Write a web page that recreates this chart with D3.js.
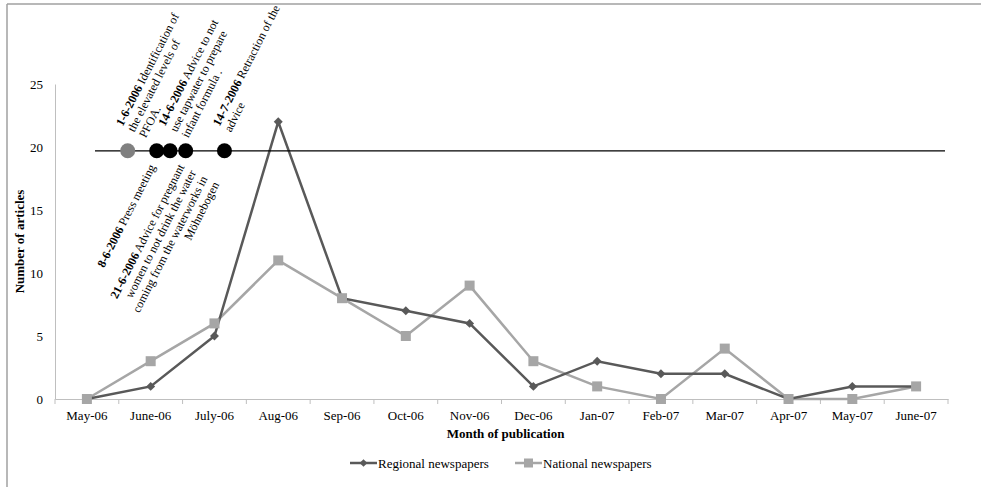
<!DOCTYPE html>
<html>
<head>
<meta charset="utf-8">
<script src="https://cdn.jsdelivr.net/npm/d3@7"></script>
<style>
  html, body { margin: 0; padding: 0; background: #fff; }
  svg { display: block; }
  text { font-family: "Liberation Serif", "Times New Roman", serif; fill: #000; }
</style>
</head>
<body>
<svg id="chart" width="981" height="487"></svg>
<script>
// ---------- data ----------
const months = ["May-06","June-06","July-06","Aug-06","Sep-06","Oct-06","Nov-06","Dec-06","Jan-07","Feb-07","Mar-07","Apr-07","May-07","June-07"];
const regional = [0, 1, 5, 22, 8, 7, 6, 1, 3, 2, 2, 0, 1, 1];
const national = [0, 3, 6, 11, 8, 5, 9, 3, 1, 0, 4, 0, 0, 1];
const yTicks = [0, 5, 10, 15, 20, 25];
const seriesNames = ["Regional newspapers", "National newspapers"];

const eventDates = ["2006-06-01", "2006-06-08", "2006-06-14", "2006-06-21", "2006-07-14"];
const eventTitles = ["1-6-2006", "8-6-2006", "14-6-2006", "21-6-2006", "14-7-2006"];
const eventLines = [
  ["Identification of", "the elevated  levels  of", "PFOA."],
  ["Press meeting"],
  ["Advice to not", "use tapwater to prepare", "infant formula ."],
  ["Advice for pregnant", "women to not drink the water", "coming from the waterworks  in", "Möhnebogen"],
  ["Retraction of the", "advice"]
];
const eventSide = ["above", "below", "above", "below", "above"];
const eventKind = ["info", "action", "action", "action", "action"];
const timelineLevel = 19.7;

// ---------- layout ----------
const svg = d3.select("#chart");
const W = 981, H = 487;
const plot = { left: 55, right: 948, top: 84, bottom: 399 };
const darkColor = "#595959", lightColor = "#a6a6a6", axisColor = "#bfbfbf";

// frame
svg.append("line").attr("x1", 7).attr("x2", W).attr("y1", 4).attr("y2", 4)
  .attr("stroke", "#a0a0a0").attr("stroke-width", 1.5);
svg.append("line").attr("x1", 7).attr("x2", 7).attr("y1", 4).attr("y2", H)
  .attr("stroke", "#a0a0a0").attr("stroke-width", 1.5);

const x = d3.scaleBand().domain(months).range([plot.left, plot.right]);
const cx = m => x(m) + x.bandwidth() / 2;
const y = d3.scaleLinear().domain([0, 25]).range([plot.bottom, plot.top]);

// y axis
const yAxis = d3.axisLeft(y).tickValues(yTicks).tickSize(0).tickPadding(12);
const gy = svg.append("g").attr("transform", `translate(${plot.left},0)`).call(yAxis);
gy.select(".domain").attr("stroke", axisColor).attr("stroke-width", 1);
gy.selectAll("text").attr("font-size", 13).attr("font-family", "Liberation Serif, serif").attr("fill", "#000");

// x axis
const xAxis = d3.axisBottom(x).tickSize(0).tickPadding(12);
const gx = svg.append("g").attr("transform", `translate(0,${plot.bottom})`).call(xAxis);
gx.select(".domain").attr("stroke", axisColor).attr("stroke-width", 1);
gx.selectAll("text").attr("font-size", 13).attr("font-family", "Liberation Serif, serif").attr("fill", "#000");
// boundary ticks
const bounds = months.map(m => x(m)).concat([x(months[months.length - 1]) + x.bandwidth()]);
gx.selectAll(".btick").data(bounds).enter().append("line")
  .attr("x1", d => d).attr("x2", d => d).attr("y1", 0).attr("y2", 5)
  .attr("stroke", axisColor).attr("stroke-width", 1);

// axis titles
svg.append("text").attr("x", (plot.left + plot.right) / 2 + 4).attr("y", 438)
  .attr("text-anchor", "middle").attr("font-size", 13).attr("font-weight", "bold")
  .text("Month of publication");
svg.append("text").attr("transform", `translate(24,${(plot.top + plot.bottom) / 2 + 0}) rotate(-90)`)
  .attr("text-anchor", "middle").attr("font-size", 13).attr("font-weight", "bold")
  .text("Number of articles");

// ---------- series ----------
const line = d3.line().x((d, i) => cx(months[i])).y(d => y(d));
svg.append("path").datum(national).attr("d", line).attr("fill", "none")
  .attr("stroke", lightColor).attr("stroke-width", 2.5);
svg.append("path").datum(regional).attr("d", line).attr("fill", "none")
  .attr("stroke", darkColor).attr("stroke-width", 2.5);

const diamond = d3.symbol().type(d3.symbolSquare).size(40);
svg.selectAll(".reg").data(regional).enter().append("path")
  .attr("d", diamond())
  .attr("transform", (d, i) => `translate(${cx(months[i])},${y(d)}) rotate(45)`)
  .attr("fill", darkColor);
svg.selectAll(".nat").data(national).enter().append("rect")
  .attr("x", (d, i) => cx(months[i]) - 5).attr("y", d => y(d) - 5)
  .attr("width", 10).attr("height", 10).attr("fill", lightColor);

// ---------- timeline ----------
const parse = d3.timeParse("%Y-%m-%d");
const juneC = cx("June-06"), julyC = cx("July-06");
const ex = d3.scaleTime()
  .domain([parse("2006-06-01"), parse("2006-06-08"), parse("2006-06-21"), parse("2006-07-14")])
  .range([juneC - 23, juneC + 6, juneC + 35, julyC + 10]);
const ty = y(timelineLevel);

svg.append("line").attr("x1", 95).attr("x2", 945).attr("y1", ty).attr("y2", ty)
  .attr("stroke", "#000").attr("stroke-width", 1.3);

const events = eventDates.map((d, i) => ({ date: parse(d), title: eventTitles[i], lines: eventLines[i], side: eventSide[i], kind: eventKind[i] }));

svg.selectAll(".ev").data(events).enter().append("circle")
  .attr("cx", d => ex(d.date)).attr("cy", ty).attr("r", 7.5)
  .attr("fill", d => d.kind === "info" ? "#808080" : "#000");

const angle = -63, lh = 13;
events.forEach(ev => {
  const px = ex(ev.date);
  const above = ev.side === "above";
  const tx = above ? px - 5 : px - 1;
  const tyy = above ? ty - 24 : ty + 16;
  const t = svg.append("text")
    .attr("transform", `translate(${tx},${tyy}) rotate(${angle})`)
    .attr("font-size", 12)
    .attr("text-anchor", above ? "start" : "end");
  ev.lines.forEach((ln, j) => {
    const ts = t.append("tspan").attr("x", 0).attr("y", j * lh);
    if (j === 0) {
      ts.append("tspan").attr("font-weight", "bold").text(ev.title);
      ts.append("tspan").text(" " + ln);
    } else {
      ts.text(ln);
    }
  });
});

// ---------- legend ----------
const legY = 463;
const leg = [
  { name: seriesNames[0], color: darkColor, x0: 350, shape: "diamond" },
  { name: seriesNames[1], color: lightColor, x0: 515, shape: "square" }
];
leg.forEach(l => {
  svg.append("line").attr("x1", l.x0).attr("x2", l.x0 + 27).attr("y1", legY).attr("y2", legY)
    .attr("stroke", l.color).attr("stroke-width", 2.5);
  if (l.shape === "diamond") {
    svg.append("path").attr("d", d3.symbol().type(d3.symbolSquare).size(30)())
      .attr("transform", `translate(${l.x0 + 13.5},${legY}) rotate(45)`).attr("fill", l.color);
  } else {
    svg.append("rect").attr("x", l.x0 + 9).attr("y", legY - 4.5).attr("width", 9).attr("height", 9).attr("fill", l.color);
  }
  svg.append("text").attr("x", l.x0 + 28).attr("y", legY + 4.5).attr("font-size", 13).text(l.name);
});
</script>
</body>
</html>
